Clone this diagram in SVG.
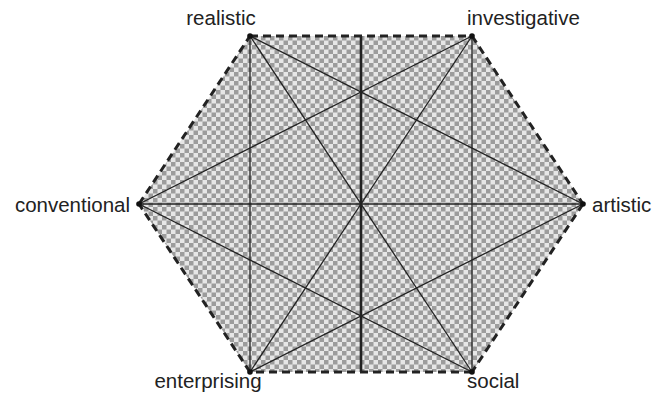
<svg xmlns="http://www.w3.org/2000/svg" width="664" height="395" viewBox="0 0 664 395">
<defs>
<pattern id="checker" width="9" height="9" patternUnits="userSpaceOnUse">
<rect width="9" height="9" fill="#e6e6e6"/>
<rect width="4.5" height="4.5" fill="#9c9c9c"/>
<rect x="4.5" y="4.5" width="4.5" height="4.5" fill="#9c9c9c"/>
</pattern>
</defs>
<style>
.lbl{font-family:"Liberation Sans","Arial",sans-serif;font-size:20.5px;fill:#222}
.thin{stroke:#222;stroke-width:1.3;fill:none}
.thick{stroke:#222;stroke-width:2.6;fill:none}
.edge{stroke:#222;stroke-width:3;stroke-dasharray:8 5;fill:none}
.dot{fill:#111}
</style>
<rect width="664" height="395" fill="#fff"/>
<polygon points="250,36 472,36 583,204 472,372 250,372 139,204" fill="url(#checker)"/>
<g id="connectors">
<path class="edge" d="M250,36 L472,36"/>
<path class="edge" d="M472,36 L583,204"/>
<path class="edge" d="M583,204 L472,372"/>
<path class="edge" d="M472,372 L250,372"/>
<path class="edge" d="M250,372 L139,204"/>
<path class="edge" d="M139,204 L250,36"/>
<path class="thin" d="M250,36 L472,372"/>
<path class="thin" d="M472,36 L250,372"/>
<path class="thin" d="M139,204 L583,204"/>
<path class="thin" d="M250,36 L583,204"/>
<path class="thin" d="M250,36 L250,372"/>
<path class="thin" d="M472,36 L139,204"/>
<path class="thin" d="M472,36 L472,372"/>
<path class="thin" d="M583,204 L250,372"/>
<path class="thin" d="M472,372 L139,204"/>
<path class="thick" d="M361,36 L361,372"/>
</g>
<g id="realistic"><circle class="dot" cx="250" cy="36" r="2.8"/><text class="lbl" x="221" y="25" text-anchor="middle">realistic</text></g>
<g id="investigative"><circle class="dot" cx="472" cy="36" r="2.8"/><text class="lbl" x="467" y="25">investigative</text></g>
<g id="artistic"><circle class="dot" cx="583" cy="204" r="2.8"/><text class="lbl" x="592" y="212">artistic</text></g>
<g id="social"><circle class="dot" cx="472" cy="372" r="2.8"/><text class="lbl" x="467" y="388">social</text></g>
<g id="enterprising"><circle class="dot" cx="250" cy="372" r="2.8"/><text class="lbl" x="208" y="388" text-anchor="middle">enterprising</text></g>
<g id="conventional"><circle class="dot" cx="139" cy="204" r="2.8"/><text class="lbl" x="130" y="212" text-anchor="end">conventional</text></g>
</svg>
